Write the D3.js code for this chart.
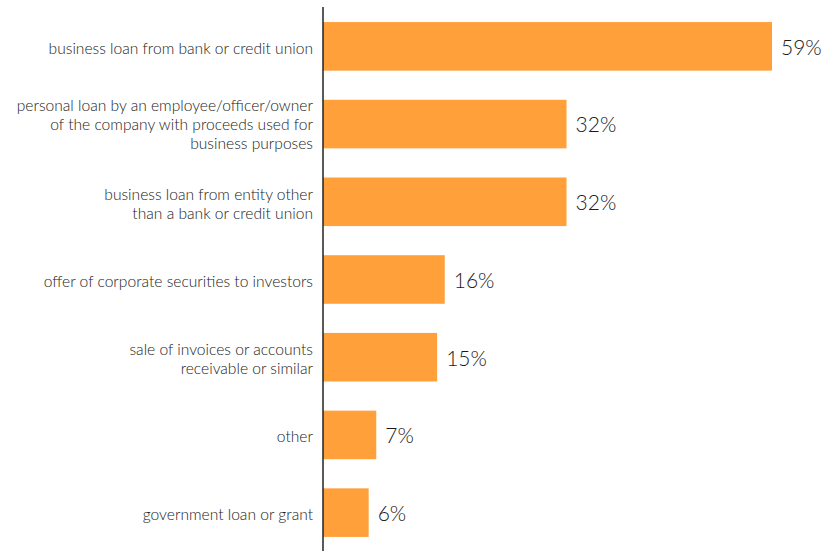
<!DOCTYPE html>
<html>
<head>
<meta charset="utf-8">
<script src="https://cdn.jsdelivr.net/npm/d3@7/dist/d3.min.js"></script>
<style>
  html, body { margin: 0; padding: 0; background: #fff; }
  svg { display: block; }
  .cat { font-family: Lato, "Open Sans", sans-serif; font-weight: 300; font-size: 15.6px; fill: #222; }
  .val { font-family: Lato, "Open Sans", sans-serif; font-weight: 300; font-size: 21px; fill: #1a1a1a; }
</style>
</head>
<body>
<svg id="chart" width="826" height="551"></svg>
<script>
// Sources of financing, share of respondents (%)
const categories = [
  ["business loan from bank or credit union"],
  ["personal loan by an employee/officer/owner", "of the company with proceeds used for", "business purposes"],
  ["business loan from entity other", "than a bank or credit union"],
  ["offer of corporate securities to investors"],
  ["sale of invoices or accounts", "receivable or similar"],
  ["other"],
  ["government loan or grant"]
];
const values = [59, 32, 32, 16, 15, 7, 6];

const svg = d3.select("#chart");
const axisX = 323;

const x = d3.scaleLinear().domain([0, 59]).range([axisX, 772]);
const y = d3.scaleBand()
  .domain(d3.range(values.length))
  .range([7.5, 551.5])
  .paddingInner(0.375)
  .paddingOuter(0.1875);

// bars
svg.selectAll("rect.bar")
  .data(values)
  .join("rect")
  .attr("class", "bar")
  .attr("x", x(0))
  .attr("y", (d, i) => y(i))
  .attr("width", d => x(d) - x(0))
  .attr("height", y.bandwidth())
  .attr("fill", "#ffa03a");

// value labels
svg.selectAll("text.val")
  .data(values)
  .join("text")
  .attr("class", "val")
  .attr("x", d => x(d) + 9)
  .attr("y", (d, i) => y(i) + y.bandwidth() / 2 + 1)
  .attr("dy", "0.35em")
  .text(d => d + "%");

// category labels (multi-line, right aligned)
const lineH = 19;
const cat = svg.selectAll("text.cat")
  .data(categories)
  .join("text")
  .attr("class", "cat")
  .attr("text-anchor", "end")
  .attr("x", axisX - 10)
  .attr("y", (d, i) => y(i) + y.bandwidth() / 2 + (d.length === 3 ? 0 : 2) - (d.length - 1) * lineH / 2);
cat.each(function(lines) {
  const t = d3.select(this);
  const x0 = t.attr("x");
  lines.forEach((s, k) => {
    t.append("tspan").attr("x", x0).attr("dy", k === 0 ? "0.35em" : lineH).text(s);
  });
});

// vertical axis line
svg.append("line")
  .attr("x1", axisX).attr("x2", axisX)
  .attr("y1", 7).attr("y2", 551)
  .attr("stroke", "#222")
  .attr("stroke-width", 1.5);
</script>
</body>
</html>
